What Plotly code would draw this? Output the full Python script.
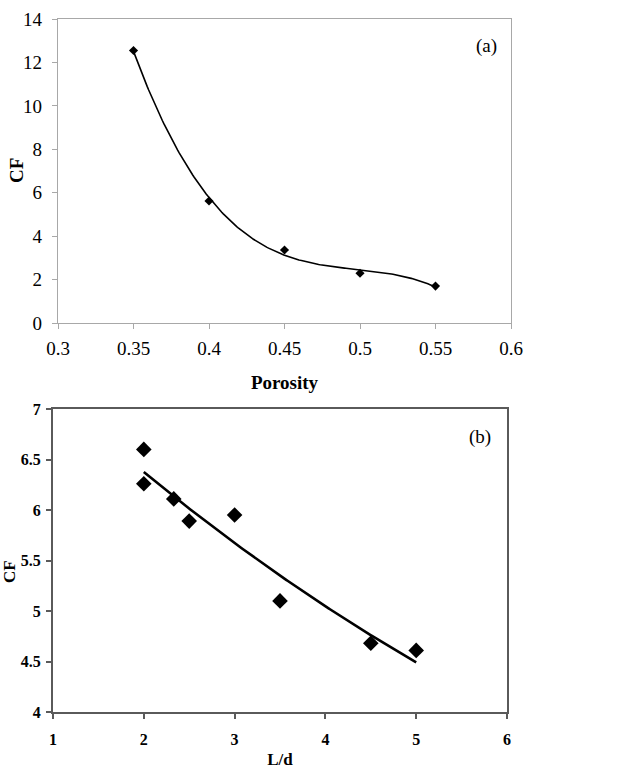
import numpy as np
import plotly.graph_objects as go

# Panel (a)
porosity = [0.35, 0.40, 0.45, 0.50, 0.55]
cf_a = [12.55, 5.62, 3.36, 2.29, 1.70]
xticks_a = [0.3, 0.35, 0.4, 0.45, 0.5, 0.55, 0.6]
yticks_a = [0, 2, 4, 6, 8, 10, 12, 14]

# Panel (b)
ld = [2.0, 2.0, 2.33, 2.5, 3.0, 3.5, 4.5, 5.0]
cf_b = [6.60, 6.26, 6.11, 5.89, 5.95, 5.10, 4.68, 4.61]
xticks_b = [1, 2, 3, 4, 5, 6]
yticks_b = [4, 4.5, 5, 5.5, 6, 6.5, 7]

# Trendlines fitted from data
coef_a = np.polyfit(porosity, cf_a, 3)
xa = np.linspace(min(porosity), max(porosity), 200)
ya = np.polyval(coef_a, xa)

bb, la = np.polyfit(ld, np.log(cf_b), 1)
xb = np.linspace(min(ld), max(ld), 200)
yb = np.exp(la + bb * xb)

FONT = "Liberation Serif"
GRAY_A = "#a8a8a8"
GRAY_B = "#5a5a5a"

fig = go.Figure()
fig.add_trace(go.Scatter(x=xa, y=ya, mode="lines", line=dict(color="black", width=1.6),
                         xaxis="x", yaxis="y", showlegend=False, hoverinfo="skip"))
fig.add_trace(go.Scatter(x=porosity, y=cf_a, mode="markers",
                         marker=dict(symbol="diamond", size=7, color="black"),
                         xaxis="x", yaxis="y", showlegend=False))
fig.add_trace(go.Scatter(x=xb, y=yb, mode="lines", line=dict(color="black", width=2.6),
                         xaxis="x2", yaxis="y2", showlegend=False, hoverinfo="skip"))
fig.add_trace(go.Scatter(x=ld, y=cf_b, mode="markers",
                         marker=dict(symbol="diamond", size=12, color="black"),
                         xaxis="x2", yaxis="y2", showlegend=False))

W, H = 629, 769

def ax(common, color, lw):
    d = dict(showline=True, linecolor=color, linewidth=lw, mirror=True,
             ticks="outside", tickcolor=color, tickwidth=lw, ticklen=5, showgrid=False,
             zeroline=False, automargin=False)
    d.update(common)
    return d

fig.update_layout(
    width=W, height=H, margin=dict(l=0, r=0, t=0, b=0, autoexpand=False),
    paper_bgcolor="white", plot_bgcolor="white",
    xaxis=ax(dict(domain=[58 / W, 511 / W], range=[0.3, 0.6], tickvals=xticks_a,
                  ticktext=[f"{v:g}" for v in xticks_a], anchor="y",
                  ticklabelstandoff=3,
                  tickfont=dict(family=FONT, size=19, color="black"),
                  title=dict(text="<b>Porosity</b>", standoff=17,
                             font=dict(family=FONT, size=19, color="black"))), GRAY_A, 1.3),
    yaxis=ax(dict(domain=[1 - 323 / H, 1 - 19 / H], range=[0, 14], tickvals=yticks_a,
                  anchor="x", ticklabelstandoff=6,
                  tickfont=dict(family=FONT, size=19, color="black")), GRAY_A, 1.3),
    xaxis2=ax(dict(domain=[53 / W, 507 / W], range=[1, 6], tickvals=xticks_b,
                   anchor="y2", ticklabelstandoff=7,
                   tickfont=dict(family=FONT, size=16, color="black", weight="bold"),
                   title=dict(text="<b>L/d</b>", standoff=9,
                              font=dict(family=FONT, size=17, color="black"))), GRAY_B, 2),
    yaxis2=ax(dict(domain=[1 - 712 / H, 1 - 409 / H], range=[4, 7], tickvals=yticks_b,
                   ticktext=[f"{v:g}" for v in yticks_b], anchor="x2",
                   ticklabelstandoff=2,
                   tickfont=dict(family=FONT, size=16, color="black", weight="bold")), GRAY_B, 2),
    annotations=[
        dict(text="<b>CF</b>", x=16 / W, y=1 - 171 / H, xref="paper", yref="paper",
             textangle=-90, showarrow=False, xanchor="center", yanchor="middle",
             font=dict(family=FONT, size=19, color="black")),
        dict(text="<b>CF</b>", x=9 / W, y=1 - 572 / H, xref="paper", yref="paper",
             textangle=-90, showarrow=False, xanchor="center", yanchor="middle",
             font=dict(family=FONT, size=17, color="black")),
        dict(text="(a)", x=0.584, y=12.77, xref="x", yref="y", showarrow=False,
             font=dict(family=FONT, size=19, color="black")),
        dict(text="(b)", x=5.70, y=6.72, xref="x2", yref="y2", showarrow=False,
             font=dict(family=FONT, size=19, color="black")),
    ],
)

fig.write_html("out.html", post_script="document.body.style.margin='0';",
               config={"displayModeBar": False})
